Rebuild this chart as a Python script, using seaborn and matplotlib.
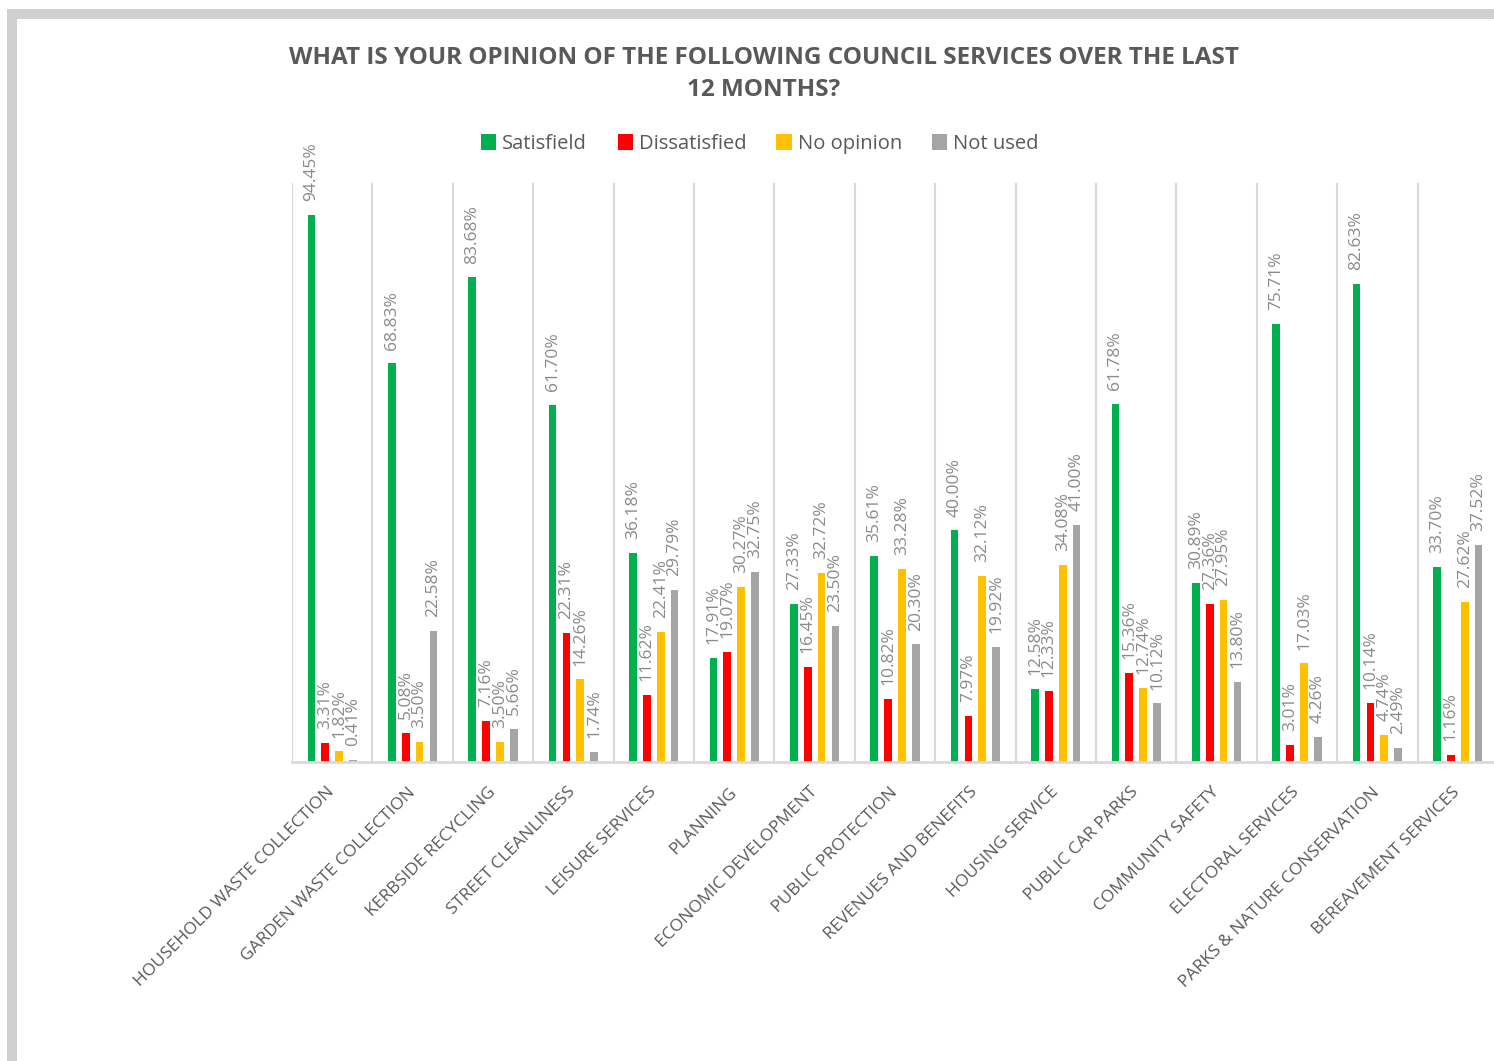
import matplotlib
matplotlib.use("Agg")
import matplotlib.pyplot as plt
import seaborn as sns
import pandas as pd
from matplotlib.patches import Rectangle, Patch

categories = [
    "HOUSEHOLD WASTE COLLECTION", "GARDEN WASTE COLLECTION", "KERBSIDE RECYCLING",
    "STREET CLEANLINESS", "LEISURE SERVICES", "PLANNING", "ECONOMIC DEVELOPMENT",
    "PUBLIC PROTECTION", "REVENUES AND BENEFITS", "HOUSING SERVICE", "PUBLIC CAR PARKS",
    "COMMUNITY SAFETY", "ELECTORAL SERVICES", "PARKS & NATURE CONSERVATION",
    "BEREAVEMENT SERVICES",
]
series_names = ["Satisfield", "Dissatisfied", "No opinion", "Not used"]
satisfied = [94.45, 68.83, 83.68, 61.70, 36.18, 17.91, 27.33, 35.61, 40.00, 12.58, 61.78, 30.89, 75.71, 82.63, 33.70]
dissatisfied = [3.31, 5.08, 7.16, 22.31, 11.62, 19.07, 16.45, 10.82, 7.97, 12.33, 15.36, 27.36, 3.01, 10.14, 1.16]
no_opinion = [1.82, 3.50, 3.50, 14.26, 22.41, 30.27, 32.72, 33.28, 32.12, 34.08, 12.74, 27.95, 17.03, 4.74, 27.62]
not_used = [0.41, 22.58, 5.66, 1.74, 29.79, 32.75, 23.50, 20.30, 19.92, 41.00, 10.12, 13.80, 4.26, 2.49, 37.52]
colors = ["#00B050", "#FF0000", "#FFC000", "#A5A5A5"]
title = "WHAT IS YOUR OPINION OF THE FOLLOWING COUNCIL SERVICES OVER THE LAST\n12 MONTHS?"

series_values = [satisfied, dissatisfied, no_opinion, not_used]
rows = []
for name, vals in zip(series_names, series_values):
    for cat, v in zip(categories, vals):
        rows.append({"Service": cat, "Response": name, "Value": v})
df = pd.DataFrame(rows)

sns.set_theme(style="white")
plt.rcParams["font.family"] = ["Open Sans", "DejaVu Sans"]

W, H = 1494, 1061
fig = plt.figure(figsize=(W / 100, H / 100), dpi=100)
fig.patch.set_facecolor("white")

def fx(px):
    return px / W

def fy(py):
    return 1 - py / H

ax = fig.add_axes([fx(292), fy(762), fx(1498) - fx(292), fy(183) - fy(762)])

sns.barplot(data=df, x="Service", y="Value", hue="Response", order=categories,
            hue_order=series_names, palette=colors, width=0.69, gap=0.44,
            dodge=True, legend=False, ax=ax, linewidth=0, saturation=1)

ax.set_ylim(0, 100)
ax.set_xlim(-0.5, len(categories) - 0.5)

for cont, vals in zip(ax.containers, series_values):
    ax.bar_label(cont, labels=[f"{v:.2f}%" for v in vals], rotation=90,
                 padding=10, fontsize=12.5, color="#8A8A8A")

# vertical category gridlines
for k in range(len(categories) + 1):
    ax.axvline(k - 0.5, color="#D9D9D9", lw=1.5, zorder=0)

for s in ["top", "right", "left"]:
    ax.spines[s].set_visible(False)
ax.spines["bottom"].set_color("#D9D9D9")
ax.spines["bottom"].set_linewidth(2)
ax.set_yticks([])
ax.set_xlabel("")
ax.set_ylabel("")
ax.set_xticks(range(len(categories)))
ax.set_xticklabels(categories, rotation=45, ha="right", va="center",
                   rotation_mode="anchor", fontsize=12.5, color="#595959")
ax.tick_params(axis="x", length=0, pad=20)

# legend
handles = [Patch(facecolor=c, edgecolor="none") for c in colors]
fig.legend(handles, series_names, loc="center", bbox_to_anchor=(fx(760), fy(144)),
           ncol=4, frameon=False, fontsize=14.5, labelcolor="#595959",
           handlelength=0.75, handleheight=0.8, handletextpad=0.3,
           columnspacing=1.5)

# title
fig.text(fx(764), fy(74), title, ha="center", va="center", fontsize=17.5,
         fontweight="bold", color="#595959", linespacing=1.5)

# outer chart frame
fig.patches.append(Rectangle((fx(12), fy(1100)), fx(1498) - fx(12), fy(14) - fy(1100),
                             transform=fig.transFigure, fill=False,
                             edgecolor="#D0D0D0", linewidth=7.2, zorder=0))

fig.savefig("out.png", dpi=100, facecolor="white")
